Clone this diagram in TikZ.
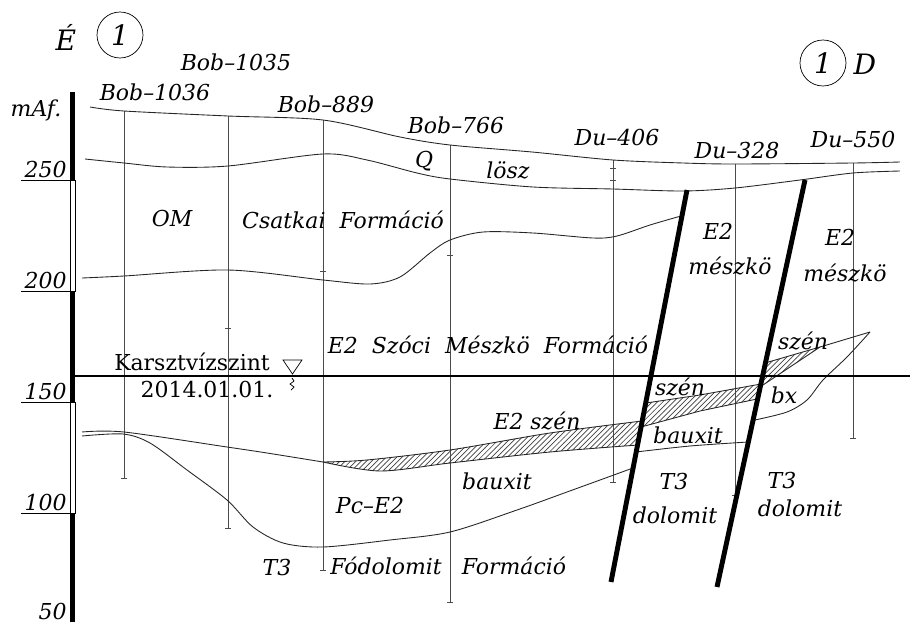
\documentclass[tikz,border=0pt]{standalone}
\usepackage{fontspec}
\setmainfont{DejaVu Serif}
\usetikzlibrary{patterns}

\begin{document}
\begin{tikzpicture}[x=0.02cm, y=-0.02cm,
		lbl/.style={font=\fontsize{12.5}{14}\selectfont\itshape, inner sep=0pt},
		big/.style={font=\fontsize{16}{18}\selectfont\itshape, inner sep=0pt},
		txt/.style={font=\fontsize{12.5}{14}\selectfont, inner sep=0pt},
		well/.style={draw=black!70, line width=0.5pt},
		bound/.style={draw=black!85, line width=0.5pt},
		fault/.style={line width=2.8pt},
		coal/.style={pattern=north east lines, pattern color=black!75}]
		\useasboundingbox (0,0) rectangle (910,622);

		\fill (70,92) rectangle (75,180);
		\draw[line width=0.4pt] (70,180) rectangle (75,291);
		\fill (70,291) rectangle (75,402);
		\draw[line width=0.4pt] (70,402) rectangle (75,513);
		\fill (70,513) rectangle (75,622);
		\foreach \y/\v in {180/250, 291/200, 402/150, 513/100} {
			\draw[line width=0.5pt] (21,\y) -- (70,\y);
			\node[lbl, anchor=south east] (h\v) at (67,\y-2) {\v};
		}
		\node[lbl, anchor=south east] (h50) at (67,620) {50};
		\node[lbl] (maf) at (36,110) {mAf.};

		\node[big] (north) at (66,37) {É};
		\node[big, circle, draw, minimum size=0.92cm] (sec1) at (120,35) {1};
		\node[big, circle, draw, minimum size=0.92cm] (sec2) at (823,63) {1};
		\node[big] (south) at (865,64) {D};

		\node[lbl] (b1035) at (236,62) {Bob–1035};
		\node[lbl] (b1036) at (155,92) {Bob–1036};
		\node[lbl] (b889) at (326,104) {Bob–889};
		\node[lbl] (b766) at (456,125) {Bob–766};
		\node[lbl] (d406) at (617,138) {Du–406};
		\node[lbl] (d328) at (737,151) {Du–328};
		\node[lbl] (d550) at (853,140) {Du–550};

		\foreach \x/\t/\b in {124/111/478, 228/116/528, 323/120/570, 450/145/602, 613/160/482, 735/164/495, 853/163/438} {
			\draw[well] (\x,\t) -- (\x,\b);
			\draw[well] (\x-3,\b) -- (\x+3,\b);
		}
		\foreach \x/\y in {228/328, 323/271, 450/255, 613/168, 613/180} {
			\draw[well] (\x-3,\y) -- (\x+3,\y);
		}

		\draw[bound] plot[smooth, tension=0.5] coordinates {(90,107) (124,111) (228,116) (323,120) (400,137) (450,145) (532,152) (613,160) (683,163) (735,164) (853,163) (900,162)};
		\draw[bound] plot[smooth, tension=0.5] coordinates {(85,159) (124,163) (167,167) (228,166) (323,154) (367,160) (417,173) (450,179) (533,187) (613,189) (683,191) (735,188) (800,180) (853,173) (900,171)};
		\draw[bound] plot[smooth, tension=0.5] coordinates {(82,278) (124,276) (228,270) (323,280) (370,284) (400,277) (430,253) (450,240) (483,232) (533,233) (593,238) (617,236) (650,225) (681,216)};

		\path[coal] plot[smooth, tension=0.5] coordinates {(323,462) (367,460) (450,450) (550,433) (642,421)}
			-- plot[smooth, tension=0.5] coordinates {(638,445) (550,452) (450,463) (380,471) (323,462)} -- cycle;
		\path[coal] (646,403) -- (700,395) -- (761,384) -- (757,399) -- (700,411) -- (641,427) -- cycle;
		\path[coal] (765,363) -- (820,347) -- (763,385) -- cycle;

		\draw[bound] plot[smooth, tension=0.5] coordinates {(82,432) (124,432) (227,447) (267,453) (323,462)};
		\draw[bound] plot[smooth, tension=0.5] coordinates {(323,462) (367,460) (450,450) (550,433) (642,421)};
		\draw[bound] plot[smooth, tension=0.5] coordinates {(323,462) (380,471) (450,463) (550,452) (638,445)};
		\draw[bound] plot[smooth, tension=0.5] coordinates {(82,436) (123,434) (150,443) (187,470) (227,500) (253,527) (283,543) (323,547) (390,540) (450,532) (517,510) (567,492) (633,468)};
		\draw[bound] (646,403) -- (700,395) -- (761,384);
		\draw[bound] (641,427) -- (700,411) -- (757,399);
		\draw[bound] plot[smooth, tension=0.5] coordinates {(636,452) (690,446) (748,442)};
		\draw[bound] (765,363) -- (820,347) -- (870,332);
		\draw[bound] (763,385) -- (820,347);
		\draw[bound] plot[smooth, tension=0.5] coordinates {(870,332) (847,357) (823,380) (807,400) (787,412) (755,420)};

		\draw[line width=1.2pt] (75,376) -- (910,376);
		\draw[line width=0.4pt] (283,360) -- (302,360) -- (292.5,374) -- cycle;
		\draw[line width=0.4pt] (292,378) -- (294,381) -- (290,384) -- (294,387) -- (291,390);
		\node[txt] (kv) at (192,362) {Karsztvízszint};
		\node[txt] (kvdate) at (207,390) {2014.01.01.};

		\draw[fault] (687,190) -- (611,582);
		\draw[fault] (805,180) -- (717,587);

		\node[lbl] (q) at (424,161) {Q};
		\node[lbl] (loess) at (508,170) {lösz};
		\node[lbl] (om) at (172,219) {OM};
		\node[lbl] (csatka) at (343,220) {Csatkai\ \ Formáció};
		\node[lbl] (szoc) at (488,345) {E2\ \ Szóci\ \ Mészkö\ \ Formáció};
		\node[lbl] (e2a) at (718,231) {E2};
		\node[lbl] (mka) at (730,266) {mészkö};
		\node[lbl] (e2b) at (840,237) {E2};
		\node[lbl] (mkb) at (845,273) {mészkö};
		\node[lbl] (szena) at (803,341) {szén};
		\node[lbl] (szenb) at (680,387) {szén};
		\node[lbl] (bx) at (784,395) {bx};
		\node[lbl] (bxa) at (688,435) {bauxit};
		\node[lbl] (e2szen) at (537,421) {E2 szén};
		\node[lbl] (bxb) at (497,481) {bauxit};
		\node[lbl] (pce2) at (370,506) {Pc–E2};
		\node[lbl] (t3a) at (277,568) {T3};
		\node[lbl] (fodol) at (386,566) {Fódolomit};
		\node[lbl] (form) at (514,566) {Formáció};
		\node[lbl] (t3b) at (674,482) {T3};
		\node[lbl] (dola) at (675,515) {dolomit};
		\node[lbl] (t3c) at (782,481) {T3};
		\node[lbl] (dolb) at (800,508) {dolomit};
	\end{tikzpicture}
\end{document}
